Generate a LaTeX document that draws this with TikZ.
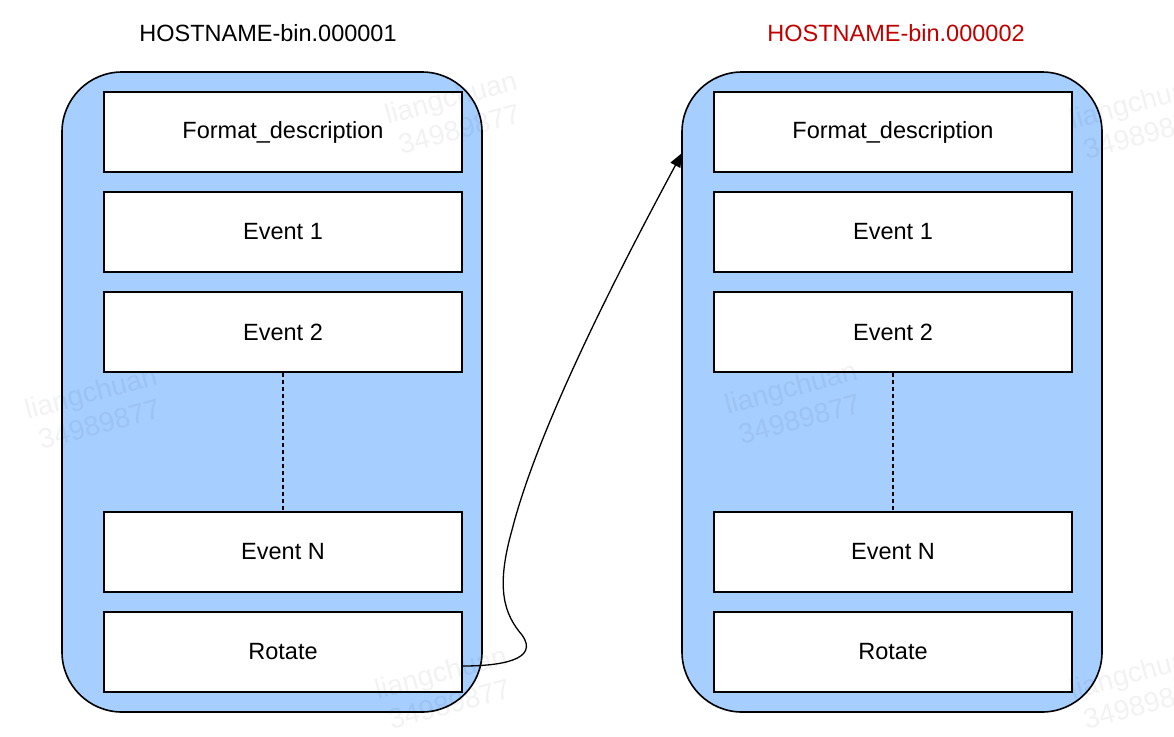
\documentclass[tikz,border=0pt]{standalone}
\usepackage{fontspec}
\setmainfont{Liberation Sans}
\usetikzlibrary{arrows.meta}
\definecolor{fillblue}{RGB}{166,206,255}
\definecolor{titlered}{RGB}{192,0,0}
\begin{document}
\begin{tikzpicture}[x=1pt,y=-1pt,
  container/.style={draw=black,line width=1.6pt,fill=fillblue,rounded corners=60pt},
  evbox/.style={draw=black,line width=1.6pt,fill=white,minimum width=358pt,minimum height=80pt,inner sep=0pt,font=\fontsize{23.5}{28}\selectfont},
  titletext/.style={font=\fontsize{23.5}{28}\selectfont},
  wm/.style={text=black,opacity=0.05,rotate=15,font=\fontsize{28}{33}\selectfont,align=center},
  dots/.style={dash pattern=on 4pt off 3pt,line width=1.2pt}
]
\useasboundingbox (0,0) rectangle (1174,736);
% containers
\draw[container] (62,72) rectangle (482,712);
\draw[container] (682,72) rectangle (1102,712);
\coordinate (R) at (682,153);
% titles
\node[titletext] (t1) at (268,33) {HOSTNAME-bin.000001};
\node[titletext,text=titlered] (t2) at (896,33) {HOSTNAME-bin.000002};
% left boxes
\node[evbox] (lf) at (283,132) {\raisebox{-2pt}{Format\_description}};
\node[evbox] (l1) at (283,232) {\raisebox{-2pt}{Event 1}};
\node[evbox] (l2) at (283,332) {\raisebox{-2pt}{Event 2}};
\node[evbox] (lN) at (283,552) {\raisebox{-2pt}{Event N}};
\node[evbox] (lR) at (283,652) {\raisebox{-2pt}{Rotate}};
% right boxes
\node[evbox] (rf) at (893,132) {\raisebox{-2pt}{Format\_description}};
\node[evbox] (r1) at (893,232) {\raisebox{-2pt}{Event 1}};
\node[evbox] (r2) at (893,332) {\raisebox{-2pt}{Event 2}};
\node[evbox] (rN) at (893,552) {\raisebox{-2pt}{Event N}};
\node[evbox] (rR) at (893,652) {\raisebox{-2pt}{Rotate}};
% dashed
\draw[dots] (l2.south) -- (lN.north);
\draw[dots] (r2.south) -- (rN.north);
% arrow
\draw[line width=1.3pt,-{Triangle[length=14pt,width=11pt]}]
  (lR.east) ++(0,14) coordinate (S)
  (S) .. controls (500,666) and (540,660) .. (522,635)
  .. controls (505,615) and (495,590) .. (512,530)
  .. controls (540,420) and (630,250) .. (R);
% watermarks
\node[wm] (w1) at (455,113) {liangchuan\\34989877};
\node[wm] (w2) at (95,408) {liangchuan\\34989877};
\node[wm] (w3) at (795,403) {liangchuan\\34989877};
\node[wm] (w4) at (445,688) {liangchuan\\34989877};
\node[wm] (w5) at (1140,118) {liangchuan\\34989877};
\node[wm] (w6) at (1140,688) {liangchuan\\34989877};
\end{tikzpicture}
\end{document}
